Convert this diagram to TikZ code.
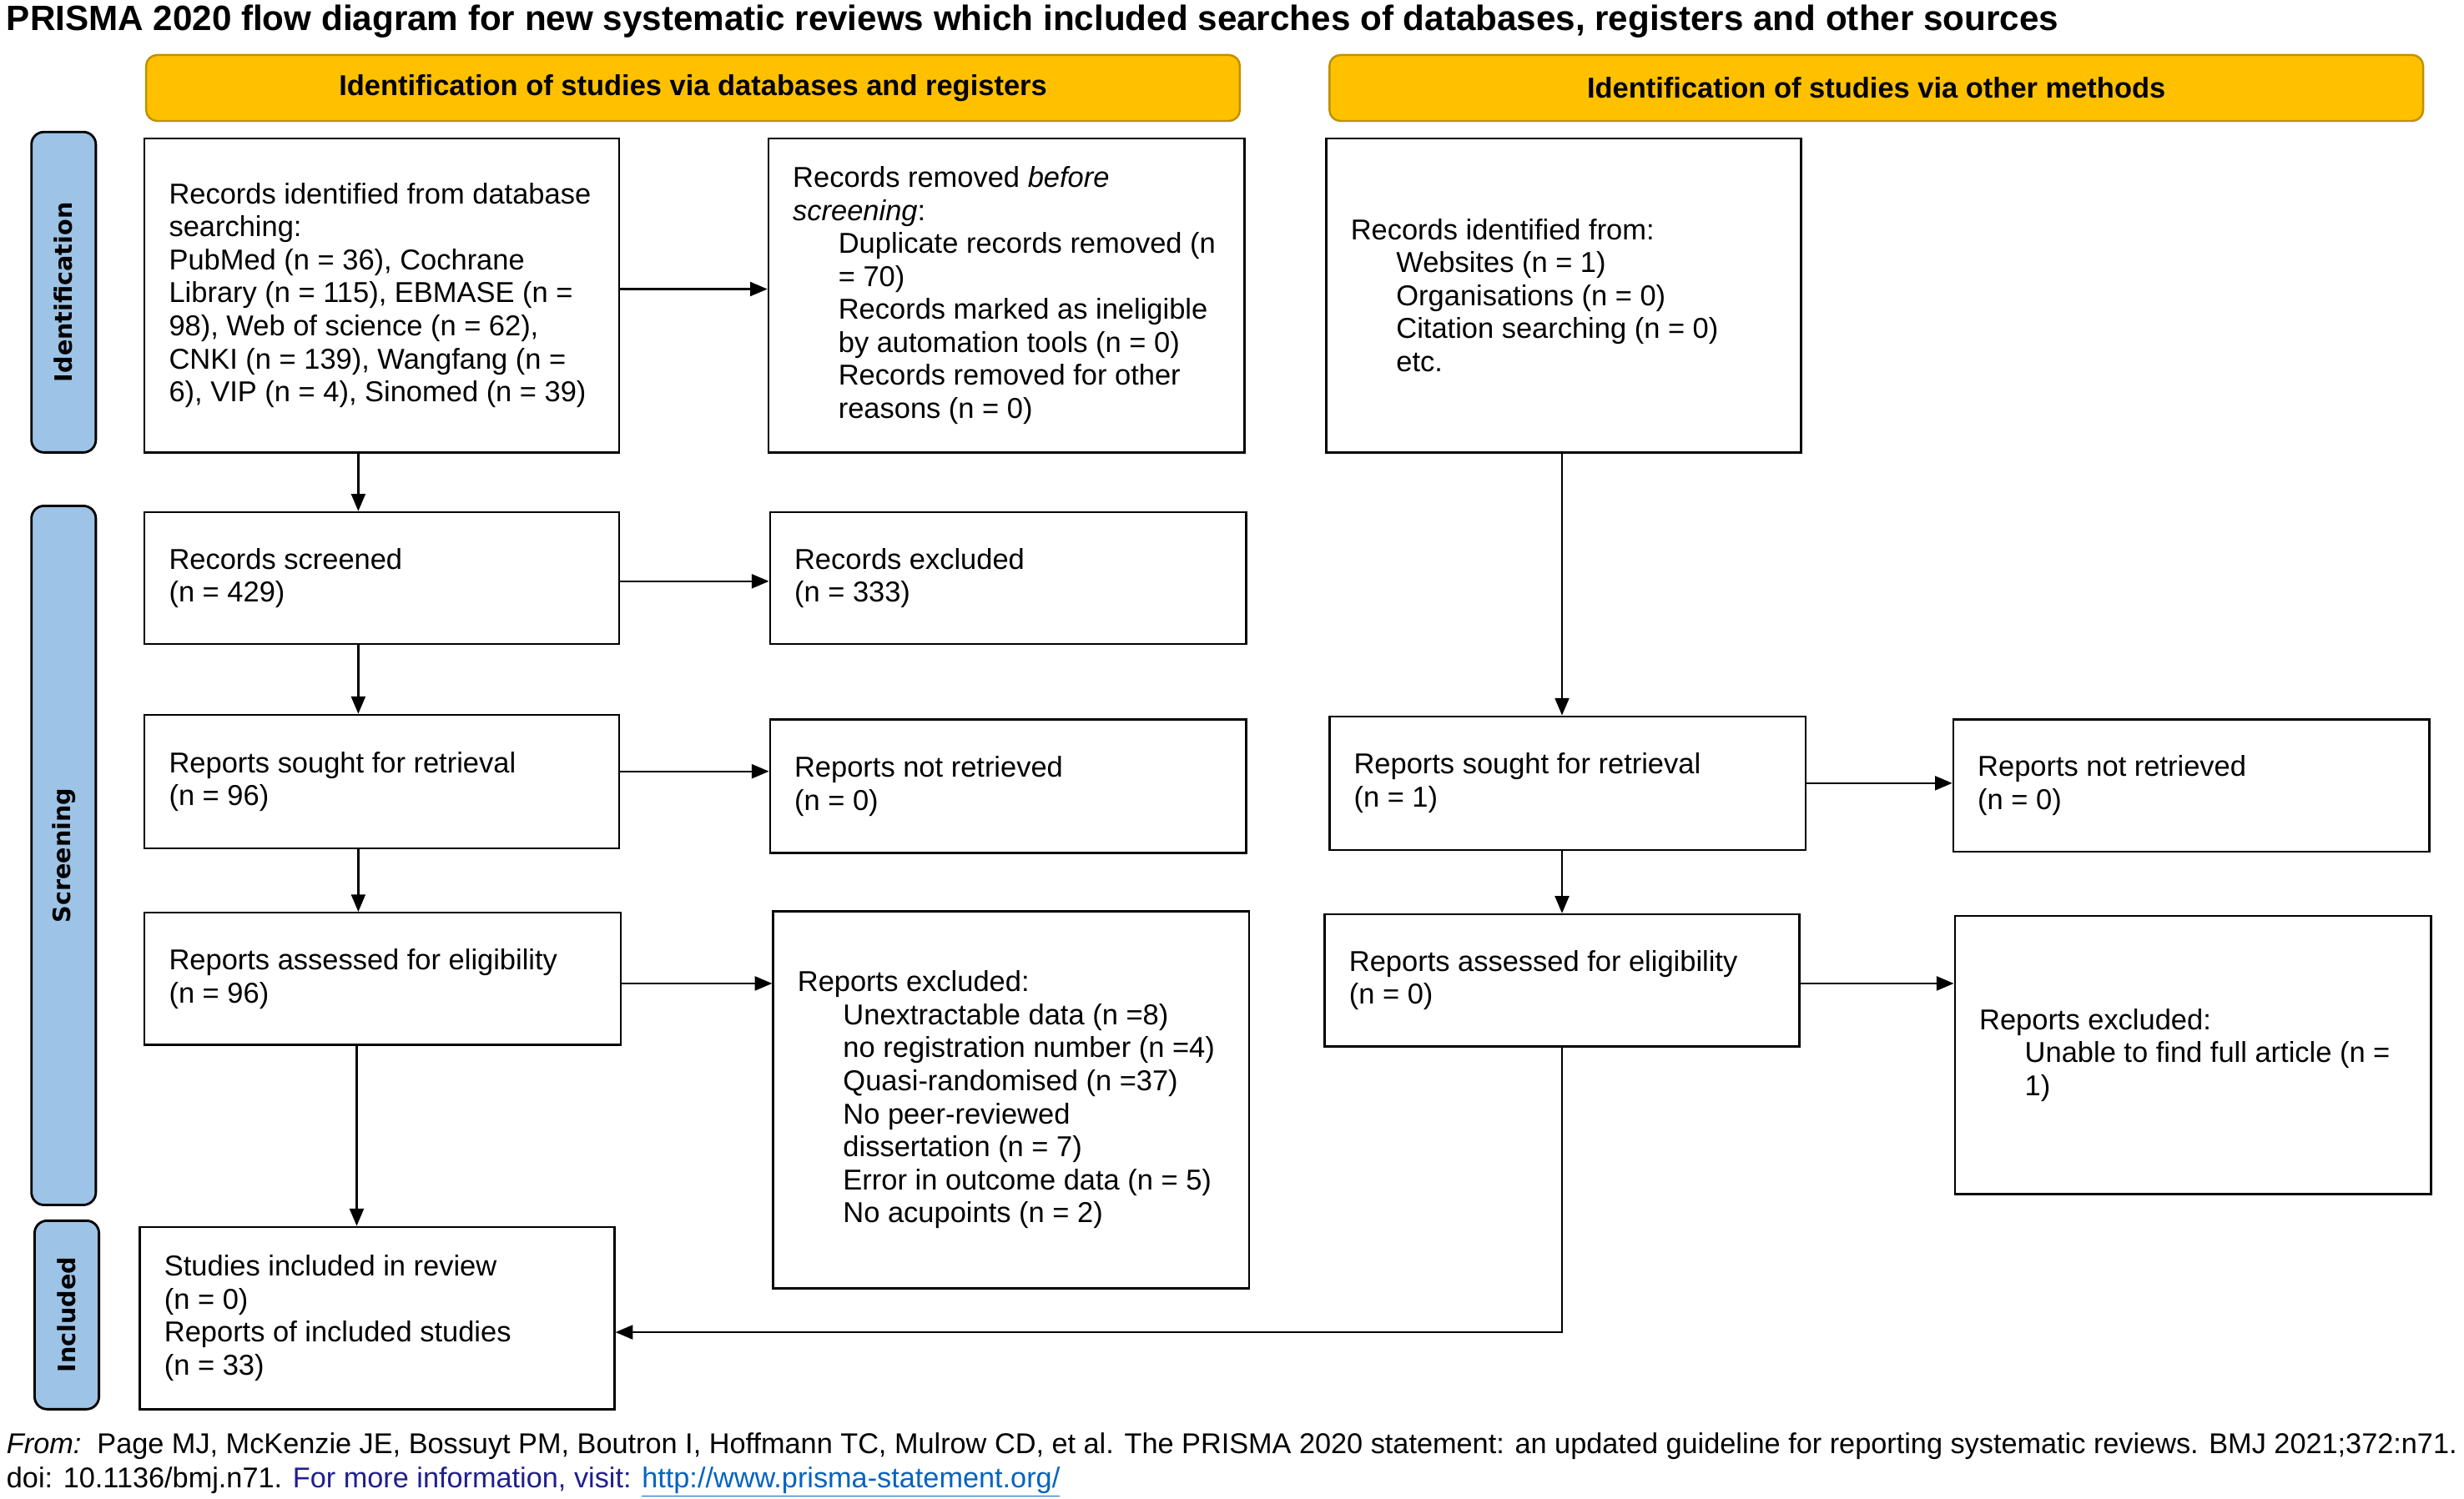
\documentclass[tikz,border=0pt]{standalone}
\usepackage{fontspec}
\setmainfont{Liberation Sans}
\newfontfamily\sidefont{DejaVu Sans}
\usetikzlibrary{arrows.meta,calc}
\definecolor{hdrfill}{HTML}{FFC000}
\definecolor{hdrdraw}{HTML}{BF9000}
\definecolor{sidefill}{HTML}{9DC3E6}
\definecolor{navytxt}{HTML}{1F1F8F}
\definecolor{linkblue}{HTML}{0563C1}
\newcommand{\flowbox}[6]{%
  \node[box, minimum width=#4pt, minimum height=#5pt] (#1) at (#2,#3) {};
  \node[txt, anchor=west] (#1t) at ([xshift=16pt]#1.west) {#6};}
\newcommand{\ind}{\hspace*{29pt}}
\begin{document}
\begin{tikzpicture}[x=1pt,y=-1pt,
  every node/.style={font=\fontsize{18.3}{21}\selectfont},
  box/.style={draw, line width=1.3pt, inner sep=0pt},
  txt/.style={align=left, inner sep=0pt},
  hdr/.style={draw=hdrdraw, fill=hdrfill, line width=1.3pt, rounded corners=7pt,
    minimum width=696pt, minimum height=42pt, inner sep=0pt,
    font=\fontsize{18.3}{21}\selectfont\bfseries},
  side/.style={draw, fill=sidefill, line width=1.5pt, rounded corners=8pt,
    rotate=90, minimum height=41pt, inner sep=0pt,
    font=\fontsize{15.2}{17}\sidefont\bfseries},
  arr/.style={line width=1.2pt, -{Triangle[length=11pt,width=9pt]}}]
\useasboundingbox (0,0) rectangle (1568,954);

% title
\node[anchor=base west, inner sep=0pt, font=\fontsize{22.4}{26}\selectfont\bfseries] (title) at (4,19.5)
  {PRISMA 2020 flow diagram for new systematic reviews which included searches of databases, registers and other sources};

% headers
\node[hdr] (h1) at (441,56) {Identification of studies via databases and registers};
\node[hdr] (h2) at (1194,56) {Identification of studies via other methods};

% side labels
\node[side, minimum width=204pt] (s1) at (40.5,186) {Identification};
\node[side, minimum width=445pt] (s2) at (40.5,544.5) {Screening};
\node[side, minimum width=120pt] (s3) at (42.5,837) {Included};

% left column
\flowbox{n1}{243}{188}{302}{200}{Records identified from database\\ searching:\\ PubMed (n = 36), Cochrane\\ Library (n = 115), EBMASE (n =\\ 98), Web of science (n = 62),\\ CNKI (n = 139), Wangfang (n =\\ 6), VIP (n = 4), Sinomed (n = 39)}
\flowbox{n2}{640.5}{188}{303}{200}{Records removed \textit{before}\\ \textit{screening}:\\ \ind Duplicate records removed (n\\ \ind = 70)\\ \ind Records marked as ineligible\\ \ind by automation tools (n = 0)\\ \ind Records removed for other\\ \ind reasons (n = 0)}
\flowbox{n3}{243}{368}{302}{84}{Records screened\\ (n = 429)}
\flowbox{n4}{641.5}{368}{303}{84}{Records excluded\\ (n = 333)}
\flowbox{n5}{243}{497.5}{302}{85}{Reports sought for retrieval\\ (n = 96)}
\flowbox{n6}{641.5}{500.5}{303}{85}{Reports not retrieved\\ (n = 0)}
\flowbox{n7}{243.5}{623}{303}{84}{Reports assessed for eligibility\\ (n = 96)}
\flowbox{n8}{643.5}{700}{303}{240}{Reports excluded:\\ \ind Unextractable data (n =8)\\ \ind no registration number (n =4)\\ \ind Quasi-randomised (n =37)\\ \ind No peer-reviewed\\ \ind dissertation (n = 7)\\ \ind Error in outcome data (n = 5)\\ \ind No acupoints (n = 2)}
\flowbox{n9}{240}{839}{302}{116}{Studies included in review\\ (n = 0)\\ Reports of included studies\\ (n = 33)}

% right column
\flowbox{n10}{995}{188}{302}{200}{Records identified from:\\ \ind Websites (n = 1)\\ \ind Organisations (n = 0)\\ \ind Citation searching (n = 0)\\ \ind etc.}
\flowbox{n11}{997.5}{498.5}{303}{85}{Reports sought for retrieval\\ (n = 1)}
\flowbox{n12}{1394.5}{500}{303}{84}{Reports not retrieved\\ (n = 0)}
\flowbox{n13}{994}{624}{302}{84}{Reports assessed for eligibility\\ (n = 0)}
\flowbox{n14}{1395.5}{671.5}{303}{177}{Reports excluded:\\ \ind Unable to find full article (n =\\ \ind 1)}

% vertical arrows
\draw[arr] ([xshift=-15pt]n1.south) -- ([xshift=-15pt]n1.south |- n3.north);
\draw[arr] ([xshift=-15pt]n3.south) -- ([xshift=-15pt]n3.south |- n5.north);
\draw[arr] ([xshift=-15pt]n5.south) -- ([xshift=-15pt]n5.south |- n7.north);
\draw[arr] ([xshift=-16.5pt]n7.south) -- ([xshift=-16.5pt]n7.south |- n9.north);
\draw[arr] ([xshift=-1pt]n10.south) -- ([xshift=-1pt]n10.south |- n11.north);
\draw[arr] ([xshift=-3.5pt]n11.south) -- ([xshift=-3.5pt]n11.south |- n13.north);
\draw[arr] (n13.south) |- ([yshift=-9pt]n9.east);

% horizontal arrows
\draw[arr] ([yshift=4pt]n1.east) -- ([yshift=4pt]n1.east -| n2.west);
\draw[arr] ([yshift=-2pt]n3.east) -- ([yshift=-2pt]n3.east -| n4.west);
\draw[arr] ([yshift=6.5pt]n5.east) -- ([yshift=6.5pt]n5.east -| n6.west);
\draw[arr] ([yshift=-3pt]n7.east) -- ([yshift=-3pt]n7.east -| n8.west);
\draw[arr] (n11.east) -- (n11.east -| n12.west);
\draw[arr] ([yshift=-2pt]n13.east) -- ([yshift=-2pt]n13.east -| n14.west);

% footer
\node[anchor=base west, inner sep=0pt, font=\fontsize{18.2}{21}\selectfont] (f1) at (4,925)
  {\textit{From:}\ \ Page MJ, McKenzie JE, Bossuyt PM, Boutron I, Hoffmann TC, Mulrow CD, et al. The PRISMA 2020 statement: an updated guideline for reporting systematic reviews. BMJ 2021;372:n71.};
\node[anchor=base west, inner sep=0pt, font=\fontsize{18.2}{21}\selectfont] (f2) at (4,947)
  {doi: 10.1136/bmj.n71. \textcolor{navytxt}{For more information, visit:} \textcolor{linkblue}{\underline{http://www.prisma-statement.org/}}};
\end{tikzpicture}
\end{document}
